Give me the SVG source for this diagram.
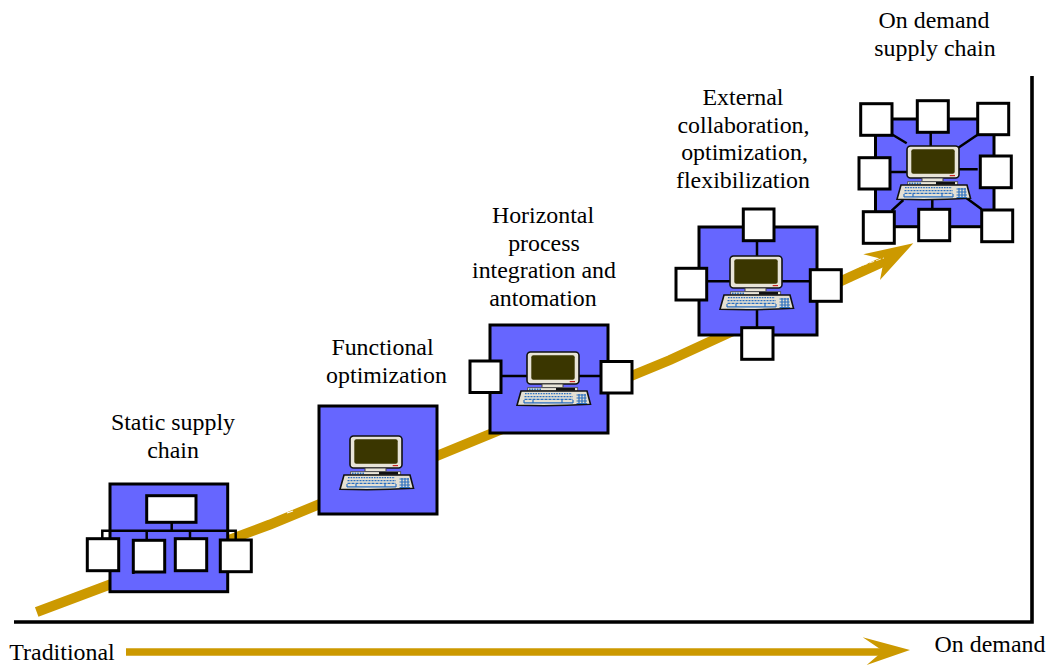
<svg xmlns="http://www.w3.org/2000/svg" width="1051" height="665" viewBox="0 0 1051 665">
<style>
.panel{fill:#6666ff;stroke:#000;stroke-width:3}
.box{fill:#fff;stroke:#000;stroke-width:3}
.link{fill:none;stroke:#000;stroke-width:2.5}
.gold{fill:#cc9900}
.goldline{fill:none;stroke:#cc9900}
text{font-family:"Liberation Serif","Times New Roman",serif;font-size:23.9px;fill:#000;text-anchor:middle}
.cap{fill:#e8e4d8;stroke:#111;stroke-width:1.6}
.key{fill:none;stroke:#2a6fc0;stroke-width:1.2}
</style>
<defs>
<symbol id="computer" overflow="visible" width="74" height="54" viewBox="0 0 74 54">
<rect class="cap" x="10" y="0" width="52" height="32" rx="3.5"/>
<rect x="14.3" y="3.3" width="43.4" height="24.4" rx="2" fill="#3a3600"/>
<rect x="52.7" y="29" width="5.3" height="1.2" fill="#cc2222"/>
<path d="M25 32H46V35.7H25Z" fill="#e8e4d8" stroke="#444" stroke-width="1"/>
<rect x="10.7" y="35.7" width="50" height="3.3" fill="#e8e4d8" stroke="#444" stroke-width="0.8"/>
<path d="M12 37.4H24" stroke="#2a6fc0" stroke-width="1.6" stroke-dasharray="1.6 1" fill="none"/>
<rect x="39" y="36" width="19" height="2.6" fill="#111"/>
<path d="M4 39H70L73.5 52.3Q36 54.5 0 53.2Z" fill="#e4e0d4" stroke="#111" stroke-width="1.6"/>
<path class="key" stroke-dasharray="1.6 1" d="M8 41.6H55"/>
<path class="key" stroke-width="1.8" stroke-dasharray="2 1" d="M7.5 44.6H56"/>
<path class="key" stroke-dasharray="3 1" d="M7.5 47.4H56"/>
<path class="key" d="M7 50.8H56M7 48V51M16 48V51M45 48V51M56 48V51"/>
<path class="key" stroke-width="1.4" d="M59.5 43H69M59.5 46H69.5M59.5 49H70M59.5 51.5H70M62 42V51.5M65 42V51.5M68 42V51.5"/>
</symbol>
</defs>

<g id="axes">
<path d="M1032 76V622H14" fill="none" stroke="#000" stroke-width="3.6"/>
</g>

<g id="main-arrow">
<path class="goldline" stroke-width="10" d="M36.7 612L270 524.5L670 360L850 277L885 261"/>
<path class="gold" d="M913.3 243.3L863.3 254.3L884 259.5L880 280Z"/>
<path d="M843 272L884 258" stroke="#fff" stroke-width="0.8" stroke-dasharray="5 2" fill="none"/>
<path d="M287 513L293 511" stroke="#fff" stroke-width="1.2" fill="none"/>
</g>

<g id="time-arrow">
<path class="goldline" stroke-width="7.5" d="M126 652H886"/>
<path class="gold" d="M910 650L862.7 637.3L883 651L866.7 665Z"/>
</g>

<g id="panel-static"><rect class="panel" x="110" y="484" width="117.7" height="107.7"/></g>
<g id="panel-functional"><rect class="panel" x="319" y="406" width="118" height="108"/></g>
<g id="panel-horizontal"><rect class="panel" x="490" y="325" width="118" height="108"/></g>
<g id="panel-external"><rect class="panel" x="699" y="227" width="118" height="108"/></g>
<g id="panel-ondemand"><rect class="panel" x="875.5" y="119" width="118.5" height="107.7"/></g>

<g id="connectors">
<path class="link" stroke-width="3" d="M171.7 522V530.7M102.3 540V530.7H235.7V541M146.7 530.7V541M190 530.7V540"/>
<path class="link" stroke-width="2" d="M133.4 565V574"/>
<path class="link" d="M501 376H601"/>
<path class="link" d="M757 240V328M706 281.3H811"/>
<path class="link" d="M889.3 132.7L906.7 143.3M930.7 132V146M978.3 134.3L955 150M890 172H908M958.3 169.3H977.7M891.7 210.7L903.3 200M932.3 200V209.3M966.7 198.3L981.7 209.3"/>
</g>

<g id="computer-2"><use href="#computer" x="340" y="436" width="74" height="54"/></g>
<g id="computer-3"><use href="#computer" x="517" y="352" width="74" height="54"/></g>
<g id="computer-4"><use href="#computer" x="720" y="256" width="74" height="54"/></g>
<g id="computer-5"><use href="#computer" x="897" y="146" width="74" height="54"/></g>

<g id="static-boxes">
<rect class="box" x="146.7" y="495.7" width="49.3" height="26.6"/>
<rect class="box" x="87.3" y="538.7" width="31.4" height="32"/>
<rect class="box" x="133.3" y="540.3" width="31.4" height="31.7"/>
<rect class="box" x="175.3" y="538.7" width="31.4" height="32"/>
<rect class="box" x="220.3" y="540" width="31" height="31.7"/>
</g>
<g id="horizontal-boxes">
<rect class="box" x="470" y="361" width="31" height="31.5"/>
<rect class="box" x="601" y="361.5" width="31" height="31.5"/>
</g>
<g id="external-boxes">
<rect class="box" x="743.3" y="209" width="30.7" height="31.7"/>
<rect class="box" x="676" y="268.3" width="30.7" height="31.7"/>
<rect class="box" x="810.3" y="269.7" width="31" height="31.6"/>
<rect class="box" x="741.7" y="327.7" width="31.3" height="31.6"/>
</g>
<g id="ondemand-boxes">
<rect class="box" x="860.7" y="103.7" width="31.3" height="31.6"/>
<rect class="box" x="917.3" y="100.7" width="31" height="31.6"/>
<rect class="box" x="977.7" y="103.3" width="31" height="31.4"/>
<rect class="box" x="859" y="157.7" width="31" height="31.3"/>
<rect class="box" x="980.3" y="156" width="31" height="31.7"/>
<rect class="box" x="863.3" y="211.7" width="31" height="31.6"/>
<rect class="box" x="918.7" y="209.3" width="31" height="31.4"/>
<rect class="box" x="981.7" y="210" width="31" height="31.7"/>
</g>

<g id="labels">
<text x="173" y="430">Static supply</text>
<text x="173" y="458">chain</text>
<text x="382.5" y="355">Functional</text>
<text x="386.5" y="383">optimization</text>
<text x="543" y="223">Horizontal</text>
<text x="544" y="251">process</text>
<text x="544" y="278">integration and</text>
<text x="543" y="306">antomation</text>
<text x="743" y="105">External</text>
<text x="743.5" y="133">collaboration,</text>
<text x="744.5" y="160">optimization,</text>
<text x="743" y="188">flexibilization</text>
<text x="934" y="28">On demand</text>
<text x="935" y="56">supply chain</text>
<text x="62" y="659.5">Traditional</text>
<text x="990" y="652">On demand</text>
</g>
</svg>
